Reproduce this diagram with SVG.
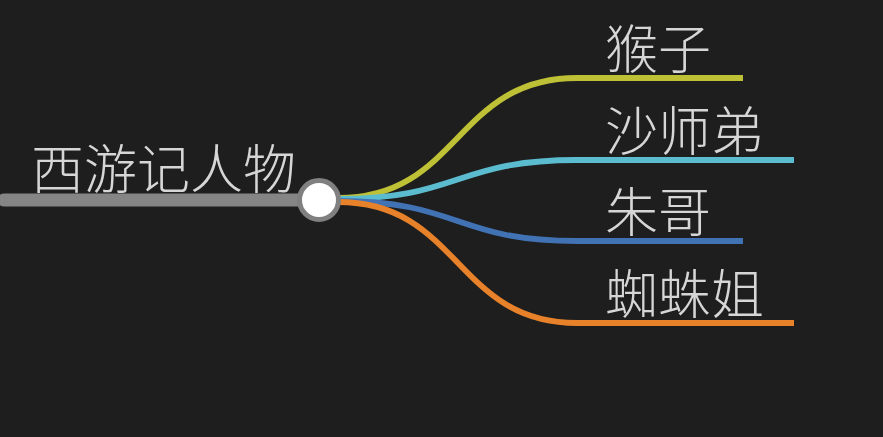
<svg xmlns="http://www.w3.org/2000/svg" width="883" height="437" viewBox="0 0 883 437">
<style>
.t{font-family:"Noto Sans CJK SC","Noto Sans",sans-serif;font-weight:300;font-size:53px;fill:#d6d6d6}
.b{fill:none;stroke-width:5.8}
</style>
<rect width="883" height="437" fill="#1e1e1e"/>
<g id="connectors">
<path class="b" stroke="#bec036" d="M338,198 C460,198 455,78 577,78 L743,78"/>
<path class="b" stroke="#5cbccf" d="M338,199 C460,199 455,160 577,160 L794,160"/>
<path class="b" stroke="#4172b4" d="M338,201 C460,201 455,241 577,241 L743,241"/>
<path class="b" stroke="#e8822a" d="M338,202 C460,202 455,323 577,323 L794,323"/>
</g>
<g id="root">
<line x1="4" y1="200" x2="305" y2="200" stroke="#858585" stroke-width="13" stroke-linecap="round"/>
<circle cx="319" cy="200" r="19.5" fill="#ffffff" stroke="#808080" stroke-width="5"/>
<text class="t" x="31" y="189">西游记人物</text>
</g>
<g id="n1"><text class="t" x="605" y="69">猴子</text></g>
<g id="n2"><text class="t" x="605" y="151">沙师弟</text></g>
<g id="n3"><text class="t" x="605" y="232">朱哥</text></g>
<g id="n4"><text class="t" x="605" y="314">蜘蛛姐</text></g>
</svg>
